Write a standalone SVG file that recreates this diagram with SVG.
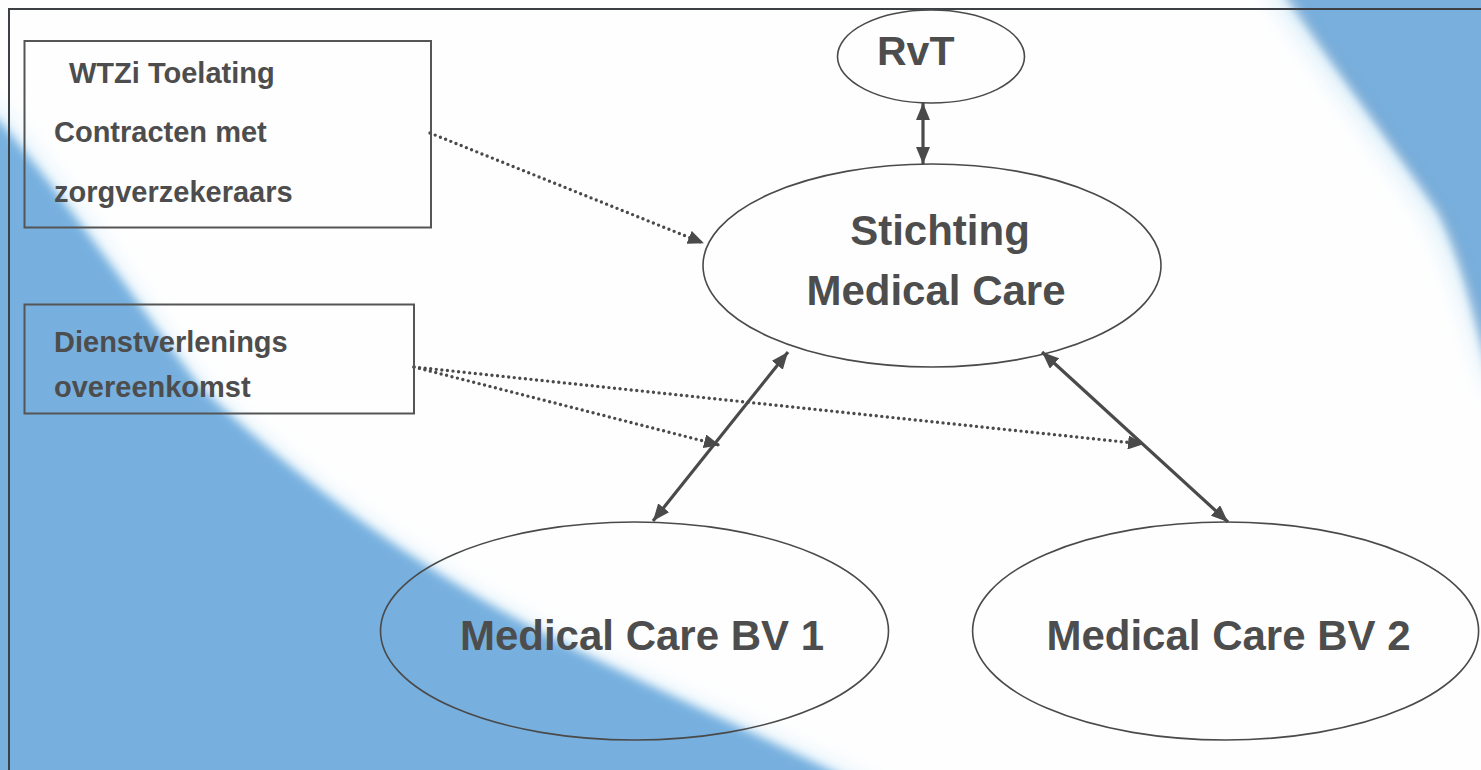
<svg xmlns="http://www.w3.org/2000/svg" width="1481" height="770" viewBox="0 0 1481 770">
<style>
.lbl{font-family:"Liberation Sans",Arial,sans-serif;font-weight:bold;fill:#4d4d4d}
.small{font-size:29px}
.big{font-size:42px}
.node{fill:none;stroke:#4a4a4a;stroke-width:1.6}
.box{fill:none;stroke:#555;stroke-width:2}
.solid{stroke:#4a4a4a;stroke-width:3.2;fill:none;marker-start:url(#ah);marker-end:url(#ah)}
.dot{stroke:#4a4a4a;stroke-width:3.4;fill:none;stroke-dasharray:0 5.6;stroke-linecap:round;marker-end:url(#ah2)}
</style>
<defs>
<marker id="ah" markerWidth="17" markerHeight="14" refX="17" refY="7" orient="auto-start-reverse" markerUnits="userSpaceOnUse"><path d="M0,0 L17,7 L0,14 z" fill="#4a4a4a"/></marker>
<marker id="ah2" markerWidth="16" markerHeight="14" refX="15" refY="7" orient="auto" markerUnits="userSpaceOnUse"><path d="M0,0 L16,7 L0,14 z" fill="#4a4a4a"/></marker>
<filter id="blur" x="-20%" y="-20%" width="140%" height="140%"><feGaussianBlur stdDeviation="5"/></filter>
<filter id="blur2" x="-20%" y="-20%" width="140%" height="140%"><feGaussianBlur stdDeviation="12"/></filter>
</defs>
<g id="background">
<rect x="0" y="0" width="1481" height="770" fill="#fefefe"/>
<path d="M-30,90 L0,112 C80,210 150,320 200,385 C300,480 420,570 560,640 C680,700 790,745 900,800 L-30,800 Z" fill="#d8eefa" filter="url(#blur2)"/>
<path d="M-30,100 L0,122 C80,217 150,322 200,387 C300,482 420,572 560,642 C680,702 790,747 890,802 L-30,802 Z" fill="#77b0df" filter="url(#blur)"/>
<path d="M1262,-20 C1315,60 1385,150 1428,215 C1455,265 1468,315 1490,390 L1520,390 L1520,-20 Z" fill="#d8eefa" filter="url(#blur2)"/>
<path d="M1280,-20 C1330,60 1400,150 1440,210 C1465,260 1475,310 1495,380 L1520,380 L1520,-20 Z" fill="#78afdc" filter="url(#blur)"/>
<path d="M1285,-10 C1335,62 1402,152 1442,212 C1466,262 1476,312 1495,382" fill="none" stroke="#6796c6" stroke-width="6" opacity="0.6" filter="url(#blur)"/>
<rect x="9" y="9" width="1520" height="800" fill="none" stroke="#3c4044" stroke-width="2"/>
</g>
<g id="connectors">
<line class="solid" x1="923" y1="103" x2="923" y2="164"/>
<line class="solid" x1="788" y1="352" x2="653" y2="521"/>
<line class="solid" x1="1042" y1="352" x2="1228" y2="522"/>
<line class="dot" x1="430" y1="133" x2="703" y2="243"/>
<line class="dot" x1="414" y1="367" x2="719" y2="445"/>
<line class="dot" x1="414" y1="367" x2="1143" y2="444"/>
</g>
<g id="box-wtzi">
<rect class="box" x="24.5" y="41" width="406.5" height="186.5"/>
<text class="lbl small" x="69" y="83">WTZi Toelating</text>
<text class="lbl small" x="54" y="142">Contracten met</text>
<text class="lbl small" x="54" y="202">zorgverzekeraars</text>
</g>
<g id="box-dienst">
<rect class="box" x="24.5" y="304.5" width="389.5" height="109"/>
<text class="lbl small" x="54" y="352">Dienstverlenings</text>
<text class="lbl small" x="54" y="397">overeenkomst</text>
</g>
<g id="node-rvt">
<ellipse class="node" cx="931" cy="56.5" rx="93.5" ry="46.5"/>
<text class="lbl" style="font-size:41px" x="877" y="65">RvT</text>
</g>
<g id="node-stichting">
<ellipse class="node" cx="932" cy="265.5" rx="229" ry="101.5"/>
<text class="lbl big" x="940" y="245" text-anchor="middle">Stichting</text>
<text class="lbl big" x="936" y="305" text-anchor="middle">Medical Care</text>
</g>
<g id="node-bv1">
<ellipse class="node" cx="634.5" cy="631" rx="254" ry="109"/>
<text class="lbl big" x="642" y="650" text-anchor="middle">Medical Care BV 1</text>
</g>
<g id="node-bv2">
<ellipse class="node" cx="1225.6" cy="631" rx="253" ry="109"/>
<text class="lbl big" x="1228.5" y="650" text-anchor="middle">Medical Care BV 2</text>
</g>
</svg>
